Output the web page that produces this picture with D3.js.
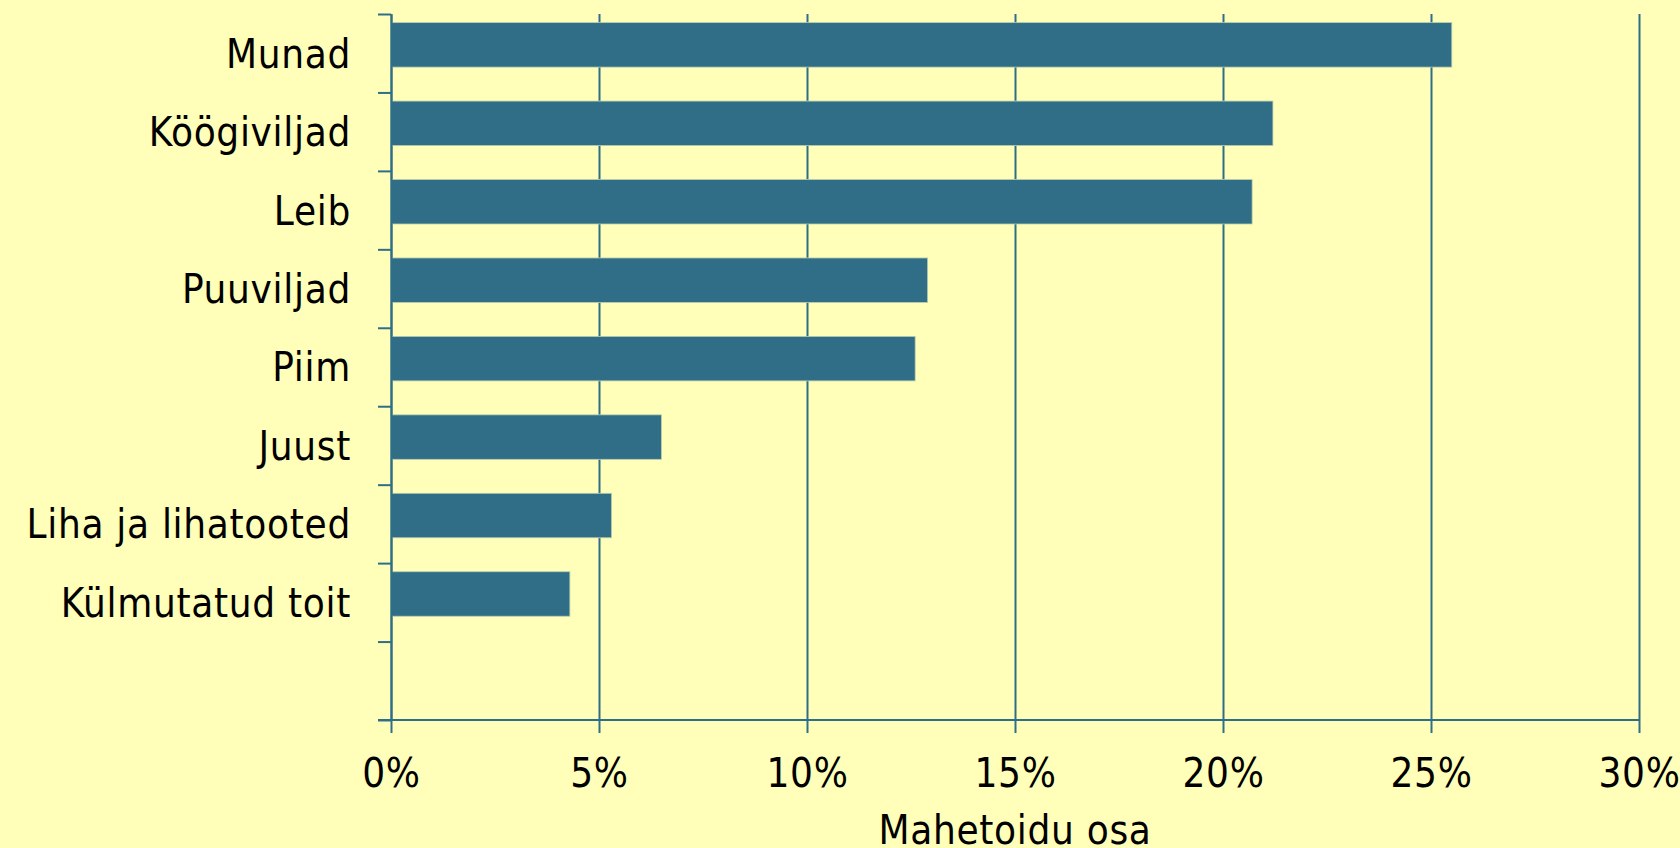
<!DOCTYPE html>
<html>
<head>
<meta charset="utf-8">
<script src="https://cdn.jsdelivr.net/npm/d3@7"></script>
<style>
  html, body { margin: 0; padding: 0; background: #FFFFB9; overflow: hidden; }
  svg text { font-family: "DejaVu Sans Condensed", "DejaVu Sans", sans-serif; font-stretch: condensed; fill: #000; letter-spacing: 0.7px; }
</style>
</head>
<body>
<script>

// data
var categories = ["Munad", "Köögiviljad", "Leib", "Puuviljad", "Piim", "Juust", "Liha ja lihatooted", "Külmutatud toit", ""];
var values = [0.255, 0.212, 0.207, 0.129, 0.126, 0.065, 0.053, 0.043, null];
var xTicks = [0, 0.05, 0.10, 0.15, 0.20, 0.25, 0.30];
var xTitle = "Mahetoidu osa";
var sourceNote = "Allikas: GfK Custom Research";

var W = 1680, H = 848;
var plot = {left: 391, right: 1639, top: 14, bottom: 720};
var lineCol = "#2F6E88", barCol = "#306E87";

var svg = d3.select("body").append("svg")
    .attr("width", W)
    .attr("height", H);

var x = d3.scaleLinear().domain([0, 0.30]).range([plot.left, plot.right]);
var y = d3.scaleBand().domain(d3.range(categories.length)).range([plot.top, plot.bottom]).paddingInner(0).paddingOuter(0);
var yEdge = d3.scaleLinear().domain([0, categories.length]).range([plot.top, plot.bottom]);

// gridlines
svg.append("g")
    .attr("transform", "translate(0," + plot.bottom + ")")
    .call(d3.axisBottom(x).tickValues(xTicks).tickSize(-(plot.bottom - plot.top)).tickFormat(""))
    .call(function(g) { g.select(".domain").remove(); })
    .selectAll("line")
    .attr("stroke", lineCol)
    .attr("stroke-width", 2);

// bars
svg.selectAll("rect.bar")
    .data(values.map(function(v, i) { return {v: v, i: i}; }).filter(function(d) { return d.v != null; }))
  .enter().append("rect")
    .attr("class", "bar")
    .attr("x", x(0))
    .attr("y", function(d) { return y(d.i) + y.bandwidth() * 0.11; })
    .attr("width", function(d) { return x(d.v) - x(0); })
    .attr("height", y.bandwidth() * 0.567)
    .attr("fill", barCol)
    .attr("stroke", "#B9CDB0")
    .attr("stroke-width", 0.8);

// y axis (ticks on category edges)
var yAxis = svg.append("g")
    .attr("transform", "translate(" + plot.left + ",0)")
    .call(d3.axisLeft(yEdge).tickValues(d3.range(categories.length + 1)).tickSize(13).tickSizeOuter(0).tickFormat(""));
yAxis.selectAll("line").attr("stroke", lineCol).attr("stroke-width", 2);
yAxis.select(".domain").attr("stroke", lineCol).attr("stroke-width", 2);

// x axis
var xAxis = svg.append("g")
    .attr("transform", "translate(0," + plot.bottom + ")")
    .call(d3.axisBottom(x).tickValues(xTicks).tickSize(13).tickSizeOuter(0).tickFormat(d3.format(".0%")));
xAxis.select(".domain").remove();
xAxis.append("line")
    .attr("x1", plot.left - 13).attr("x2", plot.right)
    .attr("stroke", lineCol).attr("stroke-width", 2);
xAxis.selectAll("line").attr("stroke", lineCol).attr("stroke-width", 2);
xAxis.selectAll("text")
    .attr("y", 67)
    .attr("dy", null)
    .style("font-size", "40px");

// category labels
svg.append("g").selectAll("text")
    .data(categories)
  .enter().append("text")
    .attr("x", plot.left - 40)
    .attr("y", function(d, i) { return y(i) + y.bandwidth() / 2; })
    .attr("dy", "0.36em")
    .attr("text-anchor", "end")
    .style("font-size", "40px")
    .text(function(d) { return d; });

// axis title
svg.append("text")
    .attr("x", (plot.left + plot.right) / 2)
    .attr("y", 844)
    .attr("text-anchor", "middle")
    .style("font-size", "40px")
    .text(xTitle);

// source, cut off at bottom edge
svg.append("text")
    .attr("x", 1390)
    .attr("y", 872)
    .style("font-size", "32px")
    .text(sourceNote);

</script>
</body>
</html>
